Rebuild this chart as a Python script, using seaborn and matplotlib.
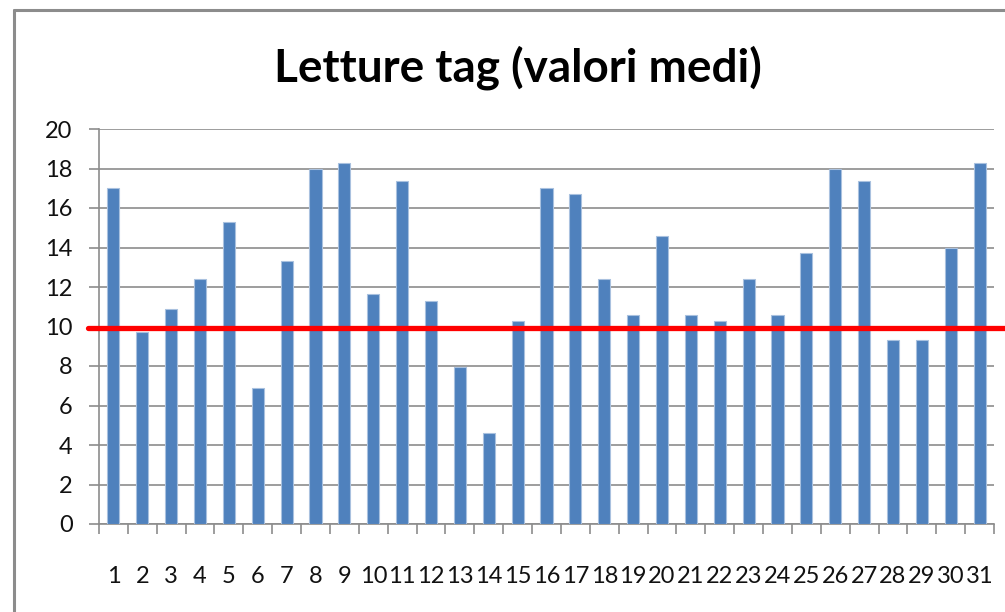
import numpy as np
import pandas as pd
import matplotlib
matplotlib.use("Agg")
import matplotlib.pyplot as plt
from matplotlib.lines import Line2D
import seaborn as sns

# data
days = [str(i) for i in range(1, 32)]
letture = [17.0, 9.7, 10.9, 12.4, 15.3, 6.9, 13.3, 18.0, 18.3, 11.65,
           17.35, 11.3, 7.95, 4.6, 10.3, 17.0, 16.7, 12.4, 10.6, 14.6,
           10.6, 10.3, 12.4, 10.6, 13.7, 18.0, 17.35, 9.3, 9.3, 14.0, 18.3]
soglia = 9.9

df = pd.DataFrame({"giorno": days, "letture": letture})

sns.set_style("white")
plt.rcParams['font.family'] = ['Lato', 'DejaVu Sans']

fig = plt.figure(figsize=(10.05, 6.12), dpi=100)
ax = fig.add_axes([99/1005, 1 - 524/612, (994 - 99)/1005, (524 - 129)/612])

sns.barplot(data=df, x="giorno", y="letture", color="#4F81BD", saturation=1,
            width=0.42, edgecolor="#A9C1DF", linewidth=0.8, ax=ax, zorder=3)

grey = "#8C8C8C"
ax.set_ylim(0, 20)
ax.set_yticks(np.arange(0, 21, 2))
ax.yaxis.grid(True, color=grey, linewidth=1.2, zorder=0)
ax.set_axisbelow(True)
ax.set_xlim(-0.5, 30.5)

# labels centred on bars, tick marks on category boundaries
ax.set_xticks(np.arange(0, 31))
ax.set_xticklabels(days, fontsize=17, color="#111111")
ax.set_xticks(np.arange(-0.5, 31, 1), minor=True)
ax.tick_params(axis="x", which="major", length=0, pad=30)
ax.tick_params(axis="x", which="minor", length=7, width=1.2, color=grey, direction="out", bottom=True)
ax.tick_params(axis="y", length=7, width=1.2, color=grey, direction="out", left=True,
               labelsize=17, labelcolor="#111111", pad=12)

for s in ["top", "right"]:
    ax.spines[s].set_visible(False)
ax.spines["left"].set_color(grey)
ax.spines["bottom"].set_color(grey)
ax.spines["left"].set_linewidth(1.2)
ax.spines["bottom"].set_linewidth(1.2)
ax.set_xlabel("")
ax.set_ylabel("")

# red reference line, drawn a bit past the plot area
ax.axhline(soglia, xmin=-0.012, xmax=1.02, color="red", linewidth=3.8, clip_on=False, zorder=5)

fig.text(518/1005, 1 - 68/612, "Letture tag (valori medi)", ha="center", va="center",
         fontsize=33, fontweight="bold", color="black")

# chart border (cropped at right and bottom)
fig.add_artist(Line2D([14/1005, 14/1005], [0, 1 - 10/612], color=grey, linewidth=2.2))
fig.add_artist(Line2D([14/1005, 1], [1 - 10/612, 1 - 10/612], color=grey, linewidth=2.2))

fig.savefig("out.png", dpi=100, facecolor="white")
